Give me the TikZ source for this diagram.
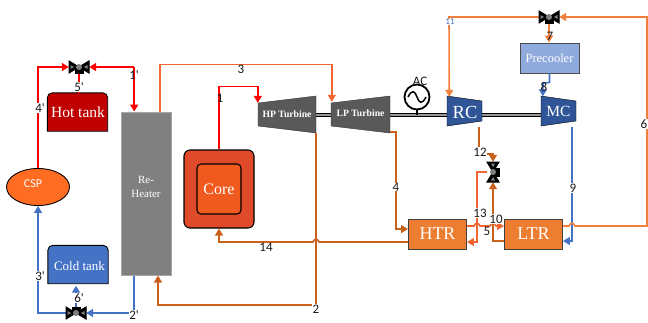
\documentclass[tikz,border=0pt]{standalone}
\usepackage{fontspec}
\setmainfont{Liberation Serif}
\newfontfamily\lblfont{Carlito}
\usetikzlibrary{arrows.meta,calc,positioning,shapes.geometric}

\definecolor{hotred}{HTML}{FF0000}
\definecolor{tankred}{HTML}{C00000}
\definecolor{coolblue}{HTML}{4472C4}
\definecolor{pipeorange}{HTML}{F0803C}
\definecolor{pipedark}{HTML}{C9601C}
\definecolor{pipethree}{HTML}{F26430}
\definecolor{hxorange}{HTML}{ED7D31}
\definecolor{turbgray}{HTML}{595959}
\definecolor{compblue}{HTML}{2F5597}
\definecolor{coreout}{HTML}{DF4A2B}
\definecolor{corein}{HTML}{F05A1E}
\definecolor{cspfill}{HTML}{FF6C22}
\definecolor{coolfill}{HTML}{8FAADC}

\begin{document}
\begin{tikzpicture}[
  x=1pt, y=-1pt,
  arrtip/.tip={Triangle[length=7pt,width=8pt]},
  tank/.style={text=white, minimum width=60pt, minimum height=38pt, inner sep=0pt},
  tankline/.style={draw=black, line width=0.9pt},
  hx/.style={draw=black!75, line width=0.9pt, fill=hxorange, text=white, minimum width=58pt,
             minimum height=30pt, inner sep=0pt, font=\fontsize{18}{20}\selectfont},
  ghost/.style={inner sep=0pt, text=white},
  pipe/.style={line width=1.6pt},
  arr/.style={pipe, -arrtip},
  shaft/.style={draw=black, line width=1pt, double=black!40, double distance=1.4pt},
  lbl/.style={font=\lblfont\fontsize{13}{13}\selectfont, fill=white, inner sep=0.3pt, text=black!90},
  lblbare/.style={font=\lblfont\fontsize{13}{13}\selectfont, inner sep=0pt, text=black!90},
  valvebox/.style={minimum width=20pt, minimum height=12pt, inner sep=0pt},
  valve/.pic={
    \fill[black, draw=black, line width=1pt] (-10,-6) -- (10,6) -- (10,-6) -- (-10,6) -- cycle;
    \fill[black] (-4.5,0) rectangle (4.5,6.5);
    \fill[black!50] (0,0) circle (3);
    \fill[black!50] (-8.5,-2) -- (-5,0) -- (-8.5,2) -- cycle;
    \fill[black!50] (8.5,-2) -- (5,0) -- (8.5,2) -- cycle;
  },
]
\useasboundingbox (0,0) rectangle (648,322);

% ---- shaft line first, machines sit on top ----
\coordinate (shaftl) at (316,115);
\coordinate (shaftr) at (541,115);
\draw[shaft] (shaftl) -- (shaftr);

% ---- solar side ----
\node[ellipse, draw=black, line width=0.9pt, fill=cspfill, minimum width=63pt,
      minimum height=37pt, inner sep=0pt] (csp) at (38,187) {};
\node[ghost, font=\lblfont\fontsize{12}{12}\selectfont] (csptxt) at (33,184) {CSP};
\node[tank] (hot) at (77.5,112) {};
\path[tankline, fill=tankred] (hot.south west) [rounded corners=5pt] -- (hot.north west) -- (hot.north east) [sharp corners] -- (hot.south east) -- cycle;
\node[ghost, font=\fontsize{15.5}{17}\selectfont] (hottxt) at (78,112) {Hot tank};
\node[tank] (cold) at (78,264.5) {};
\path[tankline, fill=coolblue] (cold.south west) [rounded corners=5pt] -- (cold.north west) -- (cold.north east) [sharp corners] -- (cold.south east) -- cycle;
\node[ghost, font=\fontsize{13}{15}\selectfont] (coldtxt) at (79.5,266.5) {Cold tank};
\node[draw=black!35, line width=1pt, fill=black!50, minimum width=50pt, minimum height=163pt, inner sep=0pt] (reheat) at (146,193.5) {};
\node[ghost, align=center, font=\fontsize{11}{14}\selectfont] (reheattxt) at (146,187) {Re-\\Heater};

% ---- core ----
\node[draw=black, line width=1.1pt, fill=coreout, rounded corners=6pt,
      minimum width=70pt, minimum height=78pt, inner sep=0pt] (core) at (219,189) {};
\node[draw=black, line width=1.1pt, fill=corein, rounded corners=4pt, text=white,
      minimum width=44pt, minimum height=50pt, inner sep=0pt,
      font=\fontsize{16}{18}\selectfont] (corein) at (219,189) {Core};

% ---- turbines and compressors ----
\fill[turbgray, draw=black!80] (258,103) -- (316,96) -- (316,133) -- (258,126) -- cycle;
\node[ghost, minimum width=58pt, minimum height=37pt, font=\bfseries\fontsize{9.7}{11}\selectfont] (hp) at (287,114.5) {HP Turbine};
\fill[turbgray, draw=black!80] (331,103) -- (390,96) -- (390,133) -- (331,126) -- cycle;
\node[ghost, minimum width=59pt, minimum height=37pt, font=\bfseries\fontsize{9.7}{11}\selectfont] (lp) at (360.5,113.5) {LP Turbine};
\fill[compblue, draw=black] (447,96) -- (482,101) -- (482,121) -- (447,126) -- cycle;
\node[ghost, minimum width=35pt, minimum height=30pt, font=\fontsize{18.5}{20}\selectfont] (rc) at (465,112) {RC};
\fill[compblue, draw=black] (541,96) -- (576,101) -- (576,121) -- (541,126) -- cycle;
\node[ghost, minimum width=35pt, minimum height=30pt, font=\fontsize{15.5}{17}\selectfont] (mc) at (558.5,111.5) {MC};
\node[draw=black!70, line width=0.9pt, fill=coolfill, text=white, minimum width=59pt, minimum height=30pt,
      inner sep=0pt, font=\fontsize{12.5}{14}\selectfont] (precool) at (549.5,58) {Precooler};

% ---- generator ----
\node[circle, draw=black, line width=1.8pt, minimum size=25pt, inner sep=0pt, fill=white] (ac) at (417,97) {};
\draw[line width=1.5pt] (408,97) .. controls (412,89) and (415,91) .. (417,97) .. controls (419,103) and (422,105) .. (426,97);
\draw[line width=1.5pt] (ac.south) -- (ac.south |- shaftl);
\node[lblbare, above=-2pt of ac, xshift=3pt] (aclbl) {AC};

% ---- recuperators ----
\node[hx] (htr) at (437.5,234) {HTR};
\node[hx] (ltr) at (533.5,234) {LTR};

% ---- valves sit on named spots ----
\node[valvebox] (vhot) at (79,67) {};
\node[valvebox] (vcold) at (76,313) {};
\node[valvebox] (vtop) at (549,17) {};
\node[valvebox, minimum width=12pt, minimum height=20pt] (vmid) at (493,172) {};

% ---- salt loop ----
\draw[arr, hotred] (csp.north) |- (vhot.west);
\draw[pipe, hotred, arrtip-] (vhot.east) -- ++(45,0) coordinate (onep);
\draw[arr, hotred] (onep) -- (onep |- reheat.north);
\draw[pipe, hotred] (vhot.south) -- (vhot.south |- hot.north);
\draw[arr, coolblue] ([xshift=-12pt]reheat.south) |- (vcold.east);
\draw[arr, coolblue] (vcold.west) -| (csp.south);
\draw[arr, coolblue] (vcold.north) -- ([yshift=-2pt]vcold.north |- cold.south);

% ---- CO2 loop ----
\draw[arr, hotred] (core.north) -- ++(0,-63) -| ([yshift=-7pt]hp.north west);
\draw[arr, pipethree] ([xshift=14pt]reheat.north) -- ++(0,-47) -| ([xshift=1pt,yshift=-7pt]lp.north west);
\draw[arr, pipedark] (hp.south east) -- ++(0,172) -| ([xshift=12pt]reheat.south);
\draw[arr, pipedark] (lp.south east) -- ++(6,0) |- ([yshift=5pt]htr.west);
\draw[arr, pipedark] ([yshift=-8pt]htr.west) -- (319,242) .. controls (318,238.5) and (314,238.5) .. (313,242) -| (core.south);
\draw[arr, pipedark] ([xshift=-4pt]rc.south east) |- (487,154) -| (vmid.north);
\draw[arr, pipethree] (vmid.west) -- ++(-10,0) |- ([yshift=-8pt]htr.east);
\draw[arr, pipethree] ([yshift=8pt]htr.east) -- (474,226) .. controls (475,222.5) and (479,222.5) .. (480,226) -- (490,226)
  .. controls (491,222.5) and (495,222.5) .. (496,226) -- ([yshift=8pt]ltr.west);
\draw[arr, pipedark] ([yshift=-7pt]ltr.west) -| (vmid.south);
\draw[arr, coolblue] ([xshift=-4pt]mc.south east) |- ([yshift=-7pt]ltr.east);
\draw[arr, pipeorange] ([yshift=8pt]ltr.east) -- (569,226) .. controls (570,222.5) and (574,222.5) .. (575,226) -- (647,226) |- (vtop.east);
\draw[arr, pipeorange] (vtop.west) -- (449,17) -- ([xshift=2pt]rc.north west);
\draw[arr, pipeorange] (vtop.south) -- (vtop.south |- precool.north);
\draw[arr, coolblue] (precool.south) -- ++(0,9) -- (543,83) -- ([xshift=2pt]mc.north west);

% ---- valve bodies ----
\pic at (vhot) {valve};
\pic[yscale=-1] at (vcold) {valve};
\pic at (vtop) {valve};
\pic[rotate=90] at (vmid) {valve};

% ---- state labels ----
\node[lblbare] (l1p) at (134,75) {1'};
\node[lbl] (l2p) at (134,315) {2'};
\node[lbl] (l3p) at (40,276) {3'};
\node[lbl] (l4p) at (40,108) {4'};
\node[lbl] (l5p) at (79,87) {5'};
\node[lbl] (l6p) at (79,298) {6'};
\node[lblbare] (l1) at (220,98) {1};
\node[lbl] (l2) at (316,309) {2};
\node[lblbare] (l3) at (241,69) {3};
\node[lbl] (l4) at (396,187) {4};
\node[lblbare] (l5) at (487,231) {5};
\node[lbl] (l6) at (644,124) {6};
\node[lblbare] (l7) at (550,36) {7};
\node[lblbare] (l8) at (544,87) {8};
\node[lbl] (l9) at (573,188) {9};
\node[lbl] (l10) at (496,219) {10};
\node[lbl, font=\lblfont\fontsize{9}{9}\selectfont, text=coolblue] (l11) at (450,22) {11};
\node[lbl] (l12) at (480,152) {12};
\node[lbl] (l13) at (480,213) {13};
\node[lbl] (l14) at (266,247) {14};
\end{tikzpicture}
\end{document}
